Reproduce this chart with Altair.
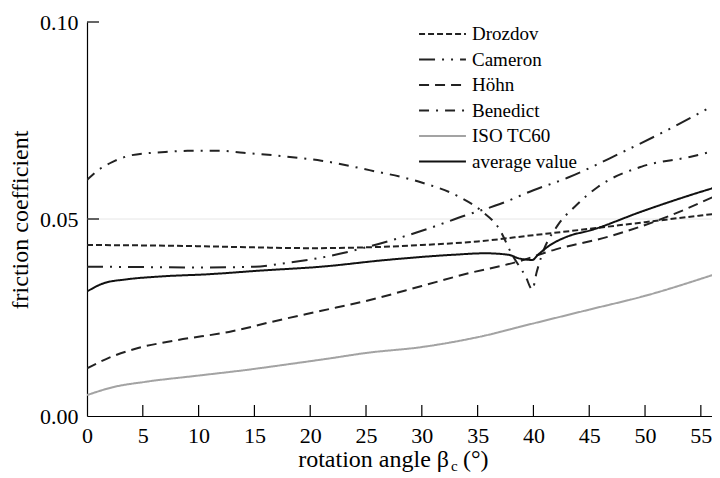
import altair as alt
import pandas as pd

series_names = ["Drozdov", "Cameron", "Höhn", "Benedict", "ISO TC60", "average value"]

drozdov_x = [0, 5, 10, 15, 20, 25, 30, 35, 40, 45, 50, 55, 56.5]
drozdov_y = [0.0434, 0.0433, 0.0431, 0.0428, 0.0426, 0.0428, 0.0434, 0.0443, 0.0459, 0.0475, 0.0492, 0.0509, 0.0514]

cameron_x = [0, 5, 10, 15, 18, 21, 25, 30, 34, 37, 40, 43, 48, 52.5, 56.5]
cameron_y = [0.0379, 0.0378, 0.0377, 0.0379, 0.0389, 0.0402, 0.0428, 0.0470, 0.0510, 0.0538, 0.0573, 0.0604, 0.0670, 0.0733, 0.0794]

hohn_x = [0, 2, 4.5, 8, 13, 17, 21, 25, 30, 34, 38.5, 42, 46.7, 51.2, 56.5]
hohn_y = [0.0121, 0.0148, 0.0172, 0.0192, 0.0215, 0.0242, 0.0267, 0.0292, 0.0330, 0.0361, 0.0391, 0.0423, 0.0455, 0.0497, 0.0561]

benedict_x = [0, 1, 2.3, 4, 7, 9, 12, 14, 16.6, 19, 21, 25.3, 29.7, 33.3, 35.4, 37, 38, 39.3, 39.9,
              40.3, 40.7, 42.2, 43.7, 45.8, 49.7, 54.1, 56.5]
benedict_y = [0.0599, 0.0624, 0.0645, 0.0662, 0.0670, 0.0673, 0.0673, 0.0668, 0.0662, 0.0655, 0.0648,
              0.0624, 0.0595, 0.0557, 0.0519, 0.0472, 0.0414, 0.0354, 0.0321,
              0.0366, 0.0404, 0.0485, 0.0531, 0.0582, 0.0633, 0.0658, 0.0675]

iso_x = [0, 2.3, 5.3, 9.8, 14.3, 18.7, 21.7, 25, 30, 35, 40, 45, 50, 56.5]
iso_y = [0.0053, 0.0073, 0.0087, 0.0102, 0.0117, 0.0134, 0.0146, 0.0160, 0.0175, 0.0200, 0.0235, 0.0270, 0.0305, 0.0362]

avg_x = [0, 1.5, 3.6, 6.5, 11, 15.5, 21, 26.8, 32.7, 35.7, 37.8, 38.7, 39.9, 40.4, 41.3, 43, 45.2, 49.7, 54.1, 56.5]
avg_y = [0.0316, 0.0337, 0.0347, 0.0354, 0.0360, 0.0369, 0.0379, 0.0396, 0.0409, 0.0413, 0.0409, 0.0400, 0.0396,
         0.0409, 0.0430, 0.0455, 0.0472, 0.0519, 0.0561, 0.0582]

x_tick_values = [0, 5, 10, 15, 20, 25, 30, 35, 40, 45, 50, 55]
y_tick_values = [0.0, 0.05, 0.10]

series_colors = ["#222222", "#222222", "#222222", "#222222", "#a3a3a3", "#111111"]
series_dashes = [[6, 3], [16, 7, 2, 7, 2, 7], [10, 6], [10, 7, 2, 7], [1, 0], [1, 0]]

rows = []
for name, xs_, ys_ in [
    ("Drozdov", drozdov_x, drozdov_y),
    ("Cameron", cameron_x, cameron_y),
    ("Höhn", hohn_x, hohn_y),
    ("Benedict", benedict_x, benedict_y),
    ("ISO TC60", iso_x, iso_y),
    ("average value", avg_x, avg_y),
]:
    for a, m in zip(xs_, ys_):
        rows.append({"series": name, "angle": a, "mu": m})
df = pd.DataFrame(rows)

W, H = 625, 394
FONT = "Liberation Serif"

xscale = alt.Scale(domain=[0, 56], nice=False, zero=False)
yscale = alt.Scale(domain=[0, 0.1], nice=False)

x_axis = alt.Axis(values=x_tick_values, title=None, tickSize=0, labelPadding=9,
                  labelFont=FONT, labelFontSize=22, labelColor="black",
                  domainColor="black", domainWidth=1.2, grid=False, labelFlush=False)
y_axis = alt.Axis(values=y_tick_values, format=".2f", title=None, tickSize=0, labelPadding=9,
                  labelFont=FONT, labelFontSize=22, labelColor="black",
                  domainColor="black", domainWidth=1.2, grid=False)

grid = alt.Chart(pd.DataFrame({"mu": [0.05]})).mark_rule(color="#e6e6e6", strokeWidth=1).encode(
    y=alt.Y("mu:Q", scale=yscale, axis=y_axis),
    x=alt.value(0), x2=alt.value(W),
)

lines = alt.Chart(df).mark_line(interpolate="monotone", clip=True, strokeWidth=2).encode(
    x=alt.X("angle:Q", scale=xscale, axis=x_axis),
    y=alt.Y("mu:Q", scale=yscale, axis=y_axis),
    color=alt.Color("series:N", scale=alt.Scale(domain=series_names, range=series_colors),
                    legend=alt.Legend(title=None)),
    strokeDash=alt.StrokeDash("series:N", scale=alt.Scale(domain=series_names, range=series_dashes),
                              legend=alt.Legend(title=None)),
)

xticks = alt.Chart(pd.DataFrame({"angle": x_tick_values[1:]})).mark_rule(color="black", strokeWidth=1.2).encode(
    x=alt.X("angle:Q", scale=xscale, axis=x_axis),
    y=alt.value(H), y2=alt.value(H - 11),
)
yticks = alt.Chart(pd.DataFrame({"mu": [0.05, 0.10]})).mark_rule(color="black", strokeWidth=1.2).encode(
    y=alt.Y("mu:Q", scale=yscale, axis=y_axis),
    x=alt.value(0), x2=alt.value(12),
)

xtitle_main = alt.Chart(pd.DataFrame({"t": ["rotation angle β"]})).mark_text(
    font=FONT, fontSize=24, align="right", baseline="alphabetic", color="black").encode(
    text="t:N", x=alt.value(362), y=alt.value(445))
xtitle_sub = alt.Chart(pd.DataFrame({"t": ["c"]})).mark_text(
    font=FONT, fontSize=15, align="left", baseline="alphabetic", color="black").encode(
    text="t:N", x=alt.value(364), y=alt.value(449))
xtitle_end = alt.Chart(pd.DataFrame({"t": ["(°)"]})).mark_text(
    font=FONT, fontSize=24, align="left", baseline="alphabetic", color="black").encode(
    text="t:N", x=alt.value(376), y=alt.value(445))
ytitle = alt.Chart(pd.DataFrame({"t": ["friction coefficient"]})).mark_text(
    font=FONT, fontSize=24, align="center", baseline="middle", angle=270, color="black").encode(
    text="t:N", x=alt.value(-66), y=alt.value(198))

chart = alt.layer(grid, lines, xticks, yticks, xtitle_main, xtitle_sub, xtitle_end, ytitle).properties(
    width=W, height=H,
    autosize=alt.AutoSizeParams(type="none"),
    padding={"left": 79, "top": 14, "right": 0, "bottom": 60},
).configure_view(stroke=None).configure_legend(
    orient="none", legendX=331, legendY=2.5,
    symbolType="stroke", symbolSize=2200, symbolStrokeWidth=2,
    labelFont=FONT, labelFontSize=19, labelColor="black", labelOffset=5,
    rowPadding=5.5, clipHeight=19, padding=0,
)

chart.save("out.html", embed_options={"renderer": "svg", "actions": False})
